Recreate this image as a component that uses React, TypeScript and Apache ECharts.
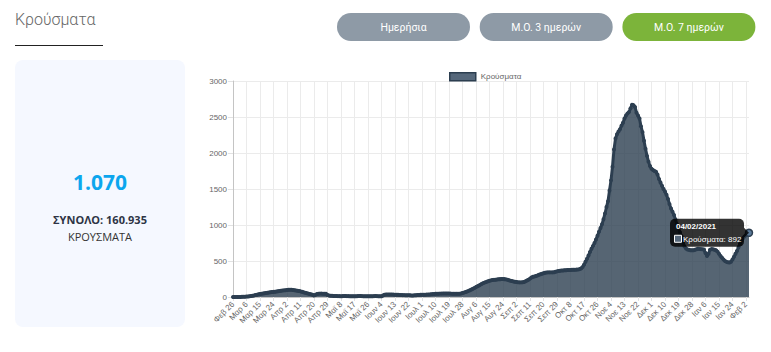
import React, { useEffect, useRef } from "react";
import * as echarts from "echarts";

// ---- texts ----
const PAGE_TITLE = "Κρούσματα";
const BUTTONS = ["Ημερήσια", "Μ.Ο. 3 ημερών", "Μ.Ο. 7 ημερών"];
const ACTIVE_BUTTON = 2;
const TODAY_VALUE = "1.070";
const TOTAL_LABEL = "ΣΥΝΟΛΟ: 160.935";
const UNIT_LABEL = "ΚΡΟΥΣΜΑΤΑ";
const SERIES_NAME = "Κρούσματα";
const MONTHS = ["Ιαν", "Φεβ", "Μαρ", "Απρ", "Μαϊ", "Ιουν", "Ιουλ", "Αυγ", "Σεπ", "Οκτ", "Νοε", "Δεκ"];
const START_DATE = Date.UTC(2020, 1, 26);

// ---- y axis ----
const Y_MIN = 0;
const Y_MAX = 3000;
const Y_STEP = 500;
const LABEL_EVERY = 9;

// ---- 7-day moving average of cases, by month ----
const feb2020 = [1, 1, 1, 1];
const mar2020 = [1, 1, 2, 3, 4, 6, 8, 11, 14, 18, 22, 27, 32, 37, 42, 46, 50, 53, 56, 59, 62, 65, 68, 71, 74, 77, 80, 83, 86, 89, 92];
const apr2020 = [95, 98, 100, 101, 100, 98, 95, 91, 87, 83, 78, 73, 66, 60, 54, 48, 43, 37, 30, 22, 30, 42, 46, 47, 47, 46, 45, 44, 28, 20];
const may2020 = [18, 16, 15, 14, 13, 12, 12, 11, 12, 13, 13, 12, 12, 11, 11, 10, 10, 11, 12, 13, 13, 12, 11, 10, 10, 9, 9, 10, 11, 12, 13];
const jun2020 = [12, 11, 10, 9, 22, 32, 35, 36, 36, 35, 34, 33, 32, 31, 30, 28, 27, 26, 26, 25, 25, 24, 23, 22, 22, 23, 25, 27, 29, 31];
const jul2020 = [30, 31, 32, 33, 34, 36, 38, 40, 42, 44, 45, 46, 47, 47, 48, 48, 48, 48, 48, 47, 46, 45, 44, 44, 45, 46, 50, 55, 61, 68, 76];
const aug2020 = [85, 95, 105, 115, 126, 138, 150, 160, 172, 184, 195, 203, 210, 218, 225, 231, 235, 238, 240, 243, 246, 248, 250, 250, 248, 245, 240, 234, 227, 221, 216];
const sep2020 = [211, 207, 204, 203, 203, 205, 208, 218, 230, 240, 255, 270, 280, 286, 293, 300, 310, 317, 324, 331, 336, 340, 342, 342, 342, 342, 345, 350, 356, 360];
const oct2020 = [364, 367, 369, 371, 372, 374, 375, 376, 377, 378, 379, 380, 383, 387, 395, 415, 449, 490, 530, 575, 625, 670, 710, 750, 800, 850, 905, 958, 1010, 1080, 1160];
const nov2020 = [1250, 1330, 1480, 1620, 1810, 2050, 2200, 2260, 2300, 2330, 2380, 2420, 2480, 2520, 2550, 2570, 2620, 2670, 2665, 2640, 2560, 2520, 2480, 2370, 2290, 2170, 2060, 1960, 1880, 1820];
const dec2020 = [1780, 1765, 1750, 1740, 1700, 1640, 1590, 1545, 1500, 1465, 1420, 1360, 1290, 1230, 1185, 1140, 1075, 1010, 960, 900, 845, 770, 700, 675, 660, 655, 650, 648, 650, 655, 662];
const jan2021 = [670, 668, 665, 662, 660, 610, 570, 600, 655, 665, 662, 657, 650, 630, 600, 570, 545, 520, 500, 488, 482, 478, 490, 520, 560, 600, 640, 690, 740, 785, 815];
const feb2021 = [840, 862, 878, 892];

const values: number[] = [
  ...feb2020, ...mar2020, ...apr2020, ...may2020, ...jun2020, ...jul2020,
  ...aug2020, ...sep2020, ...oct2020, ...nov2020, ...dec2020, ...jan2021, ...feb2021,
];
const dates = values.map((_, i) => new Date(START_DATE + i * 86400000));
const categories = dates.map((d) => `${MONTHS[d.getUTCMonth()]} ${d.getUTCDate()}`);
const pad2 = (n: number) => (n < 10 ? "0" + n : "" + n);
const fullDates = dates.map((d) => `${pad2(d.getUTCDate())}/${pad2(d.getUTCMonth() + 1)}/${d.getUTCFullYear()}`);

const LINE = "#2c3e50";
const FILL = "rgba(44,62,80,0.8)";
const FONT = "'Liberation Sans', Arial, Helvetica, sans-serif";

export default function App() {
  const ref = useRef<HTMLDivElement>(null);
  useEffect(() => {
    if (!ref.current) return;
    const chart = echarts.init(ref.current, undefined, { renderer: "svg" });
    const last = values.length - 1;

    const staticGraphic: any[] = [
      {
        type: "text", x: 15, y: 19,
        style: { text: PAGE_TITLE, fill: "#666666", fontSize: 16, fontWeight: 300, fontFamily: "Roboto, 'Noto Sans', sans-serif", align: "left", verticalAlign: "middle" },
      },
      { type: "line", shape: { x1: 15, y1: 45.5, x2: 103, y2: 45.5 }, style: { stroke: "#222", lineWidth: 1 } },
      ...BUTTONS.flatMap((b, i) => {
        const bx = 337 + i * 142.7;
        return [
          { type: "rect", shape: { x: bx, y: 13, width: 133, height: 28, r: 14 }, style: { fill: i === ACTIVE_BUTTON ? "#7cb43a" : "#8e9aa6" } },
          {
            type: "text", x: bx + 66.5, y: 27,
            style: { text: b, fill: "#ffffff", fontSize: 10.5, fontFamily: "Roboto, 'Noto Sans', sans-serif", align: "center", verticalAlign: "middle" },
          },
        ];
      }),
      { type: "rect", shape: { x: 15, y: 60, width: 170, height: 267, r: 8 }, style: { fill: "#f5f8ff" } },
      {
        type: "text", x: 100, y: 182,
        style: { text: TODAY_VALUE, fill: "#0ca6ee", fontSize: 21, fontWeight: "bold", fontFamily: "'Open Sans', sans-serif", align: "center", verticalAlign: "middle" },
      },
      {
        type: "text", x: 100, y: 219.5,
        style: { text: TOTAL_LABEL, fill: "#2d3445", fontSize: 11, fontWeight: "bold", fontFamily: "'Open Sans', sans-serif", align: "center", verticalAlign: "middle" },
      },
      {
        type: "text", x: 100, y: 236,
        style: { text: UNIT_LABEL, fill: "#333", fontSize: 11, fontFamily: "'Open Sans', sans-serif", align: "center", verticalAlign: "middle" },
      },
    ];

    chart.setOption({
      animation: false,
      textStyle: { fontFamily: FONT },
      graphic: staticGraphic,
      legend: {
        left: 444, top: 67, icon: "rect", itemWidth: 26, itemHeight: 8, itemGap: 10,
        textStyle: { fontSize: 8, color: "#666", fontFamily: FONT },
        itemStyle: { color: "#56687b", borderColor: LINE, borderWidth: 1.5 },
        data: [SERIES_NAME],
      },
      grid: { left: 233, right: 22, top: 81, bottom: 55, containLabel: false },
      xAxis: {
        type: "category", data: categories, boundaryGap: false,
        axisLine: { lineStyle: { color: "#c4c4c4" } },
        axisTick: { show: true, interval: LABEL_EVERY - 1, length: 4, lineStyle: { color: "#e2e2e2" } },
        axisLabel: { interval: LABEL_EVERY - 1, rotate: 45, fontSize: 8, color: "#666", fontFamily: FONT, margin: 6 },
        splitLine: { show: true, interval: LABEL_EVERY - 1, lineStyle: { color: "#ebebeb" } },
      },
      yAxis: {
        type: "value", min: Y_MIN, max: Y_MAX, interval: Y_STEP,
        axisLine: { show: true, lineStyle: { color: "#c4c4c4" } },
        axisTick: { show: true, length: 5, lineStyle: { color: "#e2e2e2" } },
        axisLabel: { fontSize: 8, color: "#666", fontFamily: FONT, margin: 6, formatter: (v: number) => String(v) },
        splitLine: { show: true, lineStyle: { color: "#ebebeb" } },
      },
      series: [
        {
          type: "line", name: SERIES_NAME,
          data: values.map((v, i) =>
            i === last
              ? { value: v, symbolSize: 7, itemStyle: { color: "#5b7a99", borderColor: LINE, borderWidth: 1.5 } }
              : v
          ),
          symbol: "circle", symbolSize: 4, showAllSymbol: true,
          lineStyle: { width: 3, color: LINE },
          itemStyle: { color: LINE },
          areaStyle: { color: FILL, opacity: 1 },
        },
      ],
    });

    const [px, py] = chart.convertToPixel({ seriesIndex: 0 }, [last, values[last]]) as number[];
    const w = 74, h = 28;
    const bx = px - 5 - w;
    const by = py - h / 2;
    const tip: any[] = [
      { type: "rect", z: 100, shape: { x: bx, y: by, width: w, height: h, r: 5 }, style: { fill: "rgba(0,0,0,0.8)" } },
      { type: "polygon", z: 100, shape: { points: [[bx + w, py - 5], [bx + w + 5, py], [bx + w, py + 5]] }, style: { fill: "rgba(0,0,0,0.8)" } },
      {
        type: "text", z: 101, x: bx + 6, y: by + 7.5,
        style: { text: fullDates[last], fill: "#fff", fontSize: 8, fontWeight: "bold", fontFamily: FONT, align: "left", verticalAlign: "middle" },
      },
      { type: "rect", z: 101, shape: { x: bx + 4.5, y: by + 16.5, width: 7, height: 7 }, style: { fill: "#56687b", stroke: "#fff", lineWidth: 1 } },
      {
        type: "text", z: 101, x: bx + 13, y: by + 20.5,
        style: { text: `${SERIES_NAME}: ${values[last]}`, fill: "#fff", fontSize: 8, fontFamily: FONT, align: "left", verticalAlign: "middle" },
      },
    ];
    chart.setOption({ graphic: [...staticGraphic, ...tip] });

    return () => chart.dispose();
  }, []);

  return (
    <div
      ref={ref}
      style={{ position: "absolute", left: 0, top: 0, width: 771, height: 352, background: "#ffffff" }}
    />
  );
}
